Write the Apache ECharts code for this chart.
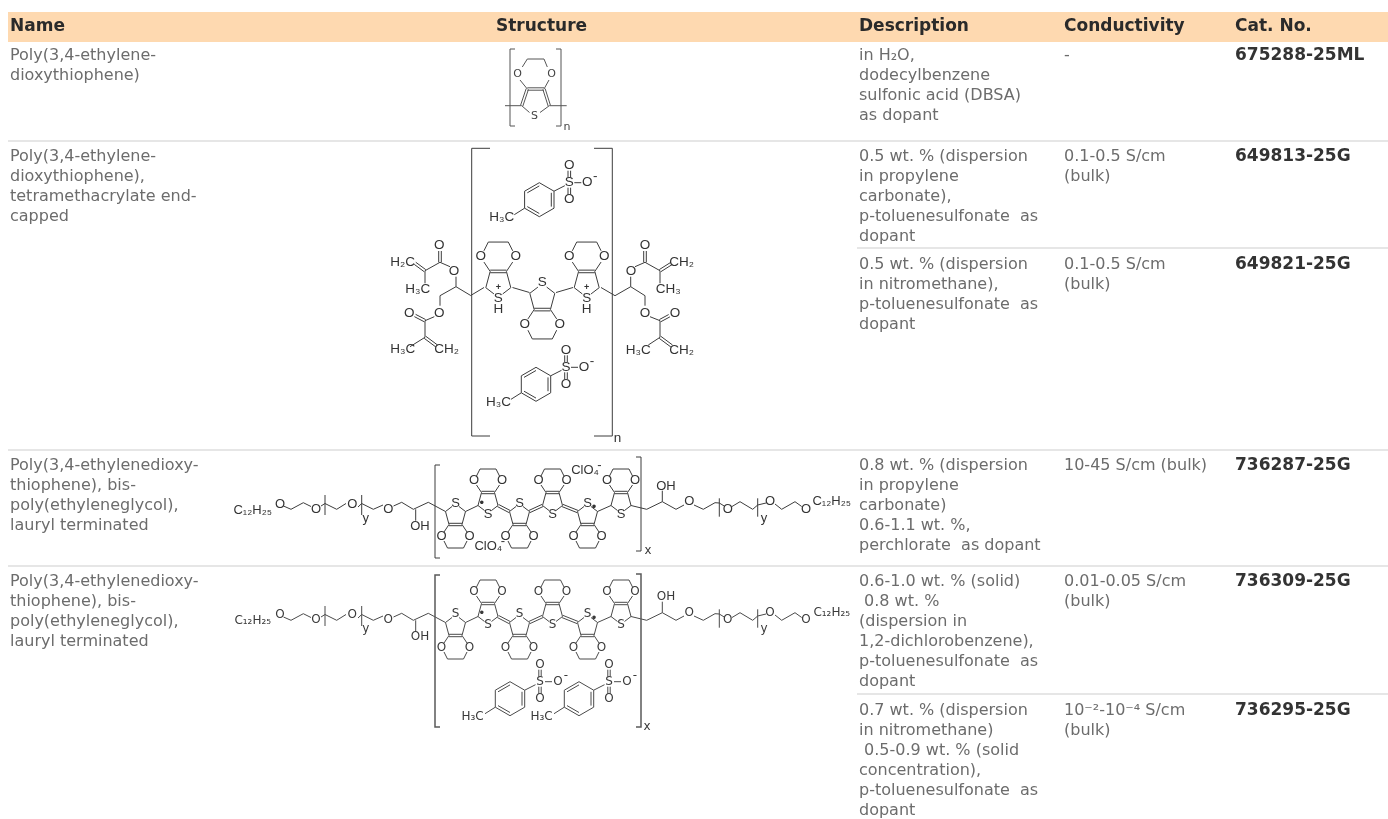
<!DOCTYPE html>
<html>
<head>
<meta charset="utf-8">
<script src="https://cdn.jsdelivr.net/npm/echarts@6/dist/echarts.min.js"></script>
<style>
  html, body { margin: 0; background: #fff; }
  #chart { width: 1388px; height: 819px; }
</style>
</head>
<body>
<div id="chart"></div>
<script>
// table text
const headers = [[10, 'Name'], [496, 'Structure'], [859, 'Description'], [1064, 'Conductivity'], [1235, 'Cat. No.']];
const names = [
  [10, 46, 'Poly(3,4-ethylene-\ndioxythiophene)'],
  [10, 147, 'Poly(3,4-ethylene-\ndioxythiophene),\ntetramethacrylate end-\ncapped'],
  [10, 456, 'Poly(3,4-ethylenedioxy-\nthiophene), bis-\npoly(ethyleneglycol),\nlauryl terminated'],
  [10, 572, 'Poly(3,4-ethylenedioxy-\nthiophene), bis-\npoly(ethyleneglycol),\nlauryl terminated']
];
const descriptions = [
  [859, 46, 'in H₂O,\ndodecylbenzene\nsulfonic acid (DBSA)\nas dopant'],
  [859, 147, '0.5 wt. % (dispersion\nin propylene\ncarbonate),\np-toluenesulfonate  as\ndopant'],
  [859, 255, '0.5 wt. % (dispersion\nin nitromethane),\np-toluenesulfonate  as\ndopant'],
  [859, 456, '0.8 wt. % (dispersion\nin propylene\ncarbonate)\n0.6-1.1 wt. %,\nperchlorate  as dopant'],
  [859, 572, '0.6-1.0 wt. % (solid)\n 0.8 wt. %\n(dispersion in\n1,2-dichlorobenzene),\np-toluenesulfonate  as\ndopant'],
  [859, 701, '0.7 wt. % (dispersion\nin nitromethane)\n 0.5-0.9 wt. % (solid\nconcentration),\np-toluenesulfonate  as\ndopant']
];
const conductivities = [
  [1064, 46, '-'],
  [1064, 147, '0.1-0.5 S/cm\n(bulk)'],
  [1064, 255, '0.1-0.5 S/cm\n(bulk)'],
  [1064, 456, '10-45 S/cm (bulk)'],
  [1064, 572, '0.01-0.05 S/cm\n(bulk)'],
  [1064, 701, '10⁻²-10⁻⁴ S/cm\n(bulk)']
];
const catalog = [
  [1235, 46, '675288-25ML'],
  [1235, 147, '649813-25G'],
  [1235, 255, '649821-25G'],
  [1235, 456, '736287-25G'],
  [1235, 572, '736309-25G'],
  [1235, 701, '736295-25G']
];
const headerBand = [8, 12, 1388, 42];
const rules = [[8, 141, 1388, 141], [857, 248, 1388, 248], [8, 450, 1388, 450], [8, 566, 1388, 566], [857, 694, 1388, 694]];

// fragment: EDOT ring, sulfur at the origin, oxygens above it
const edotBonds = [[-3.5, -3.5, -10, -8.5, -6.5, -21.5, -11.5, -29], [3.5, -3.5, 10, -8.5, 6.5, -21.5, 11.5, -29], [-11.5, -38, -8, -45, 8, -45, 11.5, -38]];
const edotDouble = [[-6.5, -21.5, 6.5, -21.5]];
const edotAtoms = [[0, 0, 'S'], [-14, -33.5, 'O'], [14, -33.5, 'O']];

// fragment: tosylate, sulfur at the origin
const tosBonds = [
  [-30, 0, -15.3, 8.5, -15.3, 25.5, -30, 34, -44.7, 25.5, -44.7, 8.5, -30, 0],
  [-15.3, 8.5, -4.5, 3], [-44.7, 25.5, -55, 32], [5, 0, 12, 0],
  [-42, 10.1, -30, 3.2], [-18, 10.1, -18, 23.9], [-30, 30.8, -42, 23.9]
];
const tosDouble = [[0, -5, 0, -12], [0, 5, 0, 12]];
const tosAtoms = [[0, 0, 'S'], [0, -17, 'O'], [0, 17, 'O'], [18, 0, 'O'], [26, -6, '-'], [-67.5, 35, 'H₃C']];

// structure 1
const s1Bonds = [
  [515, 49, 510, 49, 510, 126, 515, 126], [556, 49, 561, 49, 561, 126, 556, 126],
  [522.3, 67, 527.3, 59, 544, 59, 547.3, 67], [520, 80, 527.3, 89], [549, 80, 544, 89],
  [505, 105.7, 521.7, 105.7, 529.5, 112.5], [566.7, 105.7, 549.3, 105.7, 540, 112.5]
];
const s1Double = [[527.3, 89, 544, 89], [527.3, 89, 521.7, 105.7], [544, 89, 549.3, 105.7]];
const s1Atoms = [[517.5, 74, 'O'], [551.5, 74, 'O'], [534.5, 116, 'S'], [567, 127, 'n']];

// structure 2
const s2Bonds = [
  [490, 148.3, 471.7, 148.3, 471.7, 436, 490, 436], [594, 148.3, 612.3, 148.3, 612.3, 436, 594, 436],
  [484, 287.5, 470.7, 295.5, 456, 286.7, 440, 295.7, 440, 305.7], [456, 286.7, 456, 276.7],
  [450, 266.7, 440, 262.3, 425, 270.7, 425, 283.3], [434.3, 316.7, 425, 320.7, 425, 337.3, 410, 346.7],
  [512.5, 287.5, 529.5, 292.5], [556, 292.5, 573, 287.5],
  [601, 287.5, 615, 295.7, 630.7, 286.7, 645, 295.7, 645, 305.7], [630.7, 286.7, 630.7, 276.7],
  [635, 266.7, 645, 262.3, 660, 270.7, 660, 283.3], [650, 316.7, 660, 320.7, 660, 337.3, 648.3, 345]
];
const s2Double = [
  [440, 262.3, 440, 251], [425, 270.7, 415, 263.3], [425, 320.7, 415, 315.5], [425, 337.3, 436.7, 346],
  [645, 262.3, 645, 251], [660, 270.7, 671.7, 263.3], [660, 320.7, 669.3, 315.7], [660, 337.3, 671.7, 346]
];
const s2Atoms = [
  [498.3, 309.3, 'H'], [586.7, 309.3, 'H'], [617.5, 438, 'n'],
  [439.3, 245, 'O'], [454, 271, 'O'], [402.7, 262.7, 'H₂C'], [417.7, 289, 'H₃C'], [439.3, 313.3, 'O'],
  [409.3, 313.3, 'O'], [402.7, 349.3, 'H₃C'], [446.7, 349.3, 'CH₂'],
  [645, 245, 'O'], [631, 271, 'O'], [681.7, 262.7, 'CH₂'], [668.3, 289.3, 'CH₃'], [645, 313.3, 'O'],
  [675, 313.3, 'O'], [638.3, 350, 'H₃C'], [681.7, 350, 'CH₂']
];
const s2Charges = [[498.3, 287.5, '+'], [586.7, 287.5, '+']];

// chain and thiophene links shared by structures 3 and 4
const chainBonds = [
  [283.5, 506, 291, 509.3, 303.3, 502.7, 311, 506.5], [321, 506, 325, 503.5, 336.7, 509.3, 346, 503.5],
  [358, 507, 361.7, 503.5, 373.3, 509.3, 383, 505], [393.5, 506, 401.7, 502.3, 413.3, 509.3, 428.3, 502.3, 445.5, 511.5],
  [415.7, 509.3, 415.7, 520.7],
  [465.5, 511.5, 478, 505.5], [597.5, 511.5, 611, 505.5],
  [631, 505.5, 646.7, 509.3, 662.3, 501.7, 676, 509.3, 684, 505],
  [662.3, 501.7, 662.3, 490.7], [694, 505, 703.3, 509.3, 715, 502.7, 719.3, 503],
  [719.3, 503, 725, 506.5], [732, 506.5, 740, 501.7, 752.7, 509.3, 757.7, 505, 766, 503],
  [775, 504, 781.7, 509.3, 795, 501.7, 801.7, 506.5],
  [325, 495, 325, 515], [361.7, 495, 361.7, 515], [719.3, 498.3, 719.3, 516.7], [757.7, 498.3, 757.7, 516.7]
];
const chainDouble = [[498, 505.5, 509.5, 511.5], [529.5, 511.5, 542.5, 505.5], [562.5, 505.5, 577.5, 511.5]];
const chainAtoms = [
  [280, 504.3, 'O'], [316, 509.3, 'O'], [352.3, 504.3, 'O'], [365.7, 518, 'y'], [388.3, 509.3, 'O'], [420, 526, 'OH'],
  [666, 486, 'OH'], [689.3, 501.7, 'O'], [727.7, 509.3, 'O'], [764, 518, 'y'], [770, 501.7, 'O'], [806, 509.3, 'O']
];
const ringsUp = [[488, 514], [552.5, 514], [621, 514]];
const ringsDown = [[455.5, 503], [519.5, 503], [587.5, 503]];
const radicalDots = [[481.7, 503.3, '•'], [594, 507.5, '•']];

const s3Brackets = [[440, 465, 435, 465, 435, 558, 440, 558], [636, 457, 641, 457, 641, 551, 636, 551]];
const s3Atoms = [[252.7, 510, 'C₁₂H₂₅'], [831.7, 501.7, 'C₁₂H₂₅'], [648, 550, 'x'], [488.3, 546, 'ClO₄'], [503, 541, '-'], [585, 470, 'ClO₄'], [599.5, 465, '-']];

const s4Brackets = [[440, 575, 435, 575, 435, 727, 440, 727], [636, 574, 641, 574, 641, 727, 636, 727]];
const s4Atoms = [[252.7, 621, 'C₁₂H₂₅'], [831.7, 612.7, 'C₁₂H₂₅'], [647, 727, 'x']];
const s4Shift = 111;

function pairs(f) {
  const out = [];
  for (let i = 0; i < f.length; i += 2) out.push([f[i], f[i + 1]]);
  return out;
}
function moved(list, dx, dy, k, ky) {
  k = k === undefined ? 1 : k;
  ky = ky === undefined ? k : ky;
  return list.map(f => f.map((v, i) => i % 2 ? dy + v * ky : dx + v * k));
}
function movedText(list, dx, dy, k, ky) {
  k = k === undefined ? 1 : k;
  ky = ky === undefined ? k : ky;
  return list.map(a => [dx + a[0] * k, dy + a[1] * ky, a[2]]);
}
function doubled(list, gap) {
  const out = [];
  list.forEach(s => {
    const dx = s[2] - s[0], dy = s[3] - s[1], len = Math.hypot(dx, dy);
    const ox = -dy / len * gap, oy = dx / len * gap;
    out.push([s[0] + ox, s[1] + oy, s[2] + ox, s[3] + oy], [s[0] - ox, s[1] - oy, s[2] - ox, s[3] - oy]);
  });
  return out;
}
function bondSeries(list, color, width) {
  return {
    type: 'lines', coordinateSystem: 'cartesian2d', polyline: true, silent: true,
    lineStyle: { color: color, width: width, opacity: 1 },
    data: list.map(f => ({ coords: pairs(f) }))
  };
}
function textSeries(items, font, color, lineHeight) {
  return {
    type: 'custom', coordinateSystem: 'cartesian2d', silent: true,
    data: items.map(a => [a[0], a[1]]),
    renderItem: function (params, api) {
      const p = api.coord([api.value(0), api.value(1)]);
      const it = items[params.dataIndex];
      return {
        type: 'text', x: p[0], y: p[1],
        style: {
          text: it[2], font: font, fill: color, lineHeight: lineHeight,
          align: lineHeight ? 'left' : 'center', verticalAlign: lineHeight ? 'top' : 'middle'
        }
      };
    }
  };
}

// structure 2 rings and tosylates
const s2Rings = [[498.3, 298.3, 1.25, 1.25], [586.7, 298.3, 1.25, 1.25], [542.3, 282.7, 1.25, -1.25]];
const s2Tos = [[569.3, 182.7], [566, 367.3]];
const s4Tos = [[540, 681.7], [609, 681.7]];

let s2AllBonds = s2Bonds.slice(), s2AllDouble = s2Double.slice(), s2AllAtoms = s2Atoms.slice();
s2Rings.forEach(r => {
  s2AllBonds = s2AllBonds.concat(moved(edotBonds, r[0], r[1], r[2], r[3]));
  s2AllDouble = s2AllDouble.concat(moved(edotDouble, r[0], r[1], r[2], r[3]));
  s2AllAtoms = s2AllAtoms.concat(movedText(edotAtoms, r[0], r[1], r[2], r[3]));
});
s2Tos.forEach(r => {
  s2AllBonds = s2AllBonds.concat(moved(tosBonds, r[0], r[1]));
  s2AllDouble = s2AllDouble.concat(moved(tosDouble, r[0], r[1]));
  s2AllAtoms = s2AllAtoms.concat(movedText(tosAtoms, r[0], r[1]));
});

// structure 3 and 4 backbone
let backBonds = chainBonds.slice(), backDouble = chainDouble.slice(), backAtoms = chainAtoms.concat(radicalDots);
ringsUp.forEach(r => {
  backBonds = backBonds.concat(moved(edotBonds, r[0], r[1]));
  backDouble = backDouble.concat(moved(edotDouble, r[0], r[1]));
  backAtoms = backAtoms.concat(movedText(edotAtoms, r[0], r[1]));
});
ringsDown.forEach(r => {
  backBonds = backBonds.concat(moved(edotBonds, r[0], r[1], 1, -1));
  backDouble = backDouble.concat(moved(edotDouble, r[0], r[1], 1, -1));
  backAtoms = backAtoms.concat(movedText(edotAtoms, r[0], r[1], 1, -1));
});
let s4AllBonds = moved(backBonds, 0, s4Shift), s4AllDouble = moved(backDouble, 0, s4Shift);
let s4AllAtoms = movedText(backAtoms, 0, s4Shift).concat(s4Atoms);
s4Tos.forEach(r => {
  s4AllBonds = s4AllBonds.concat(moved(tosBonds, r[0], r[1]));
  s4AllDouble = s4AllDouble.concat(moved(tosDouble, r[0], r[1]));
  s4AllAtoms = s4AllAtoms.concat(movedText(tosAtoms, r[0], r[1]));
});

const bodyFont = '16px "DejaVu Sans"';
const inkGrey = '#6c6c6c';
const myChart = echarts.init(document.getElementById('chart'));

myChart.setOption({
  animation: false,
  grid: { left: 0, right: 0, top: 0, bottom: 0 },
  xAxis: { type: 'value', min: 0, max: 1388, show: false },
  yAxis: { type: 'value', min: 0, max: 819, inverse: true, show: false },
  series: [
    {
      type: 'custom', coordinateSystem: 'cartesian2d', silent: true,
      data: [headerBand],
      renderItem: function (params, api) {
        const a = api.coord([api.value(0), api.value(1)]);
        const b = api.coord([api.value(2), api.value(3)]);
        return { type: 'rect', shape: { x: a[0], y: a[1], width: b[0] - a[0], height: b[1] - a[1] }, style: { fill: '#fed9b0' } };
      }
    },
    bondSeries(rules, '#e6e6e6', 2),
    textSeries(headers.map(h => [h[0], 17, h[1]]), 'bold 17px "DejaVu Sans"', '#2a2a2a', 20),
    textSeries(names, bodyFont, inkGrey, 20),
    textSeries(descriptions, bodyFont, inkGrey, 20),
    textSeries(conductivities, bodyFont, inkGrey, 20),
    textSeries(catalog, 'bold 17px "DejaVu Sans"', '#333333', 20),

    bondSeries(s1Bonds, '#555555', 1),
    bondSeries(doubled(s1Double, 1.2), '#555555', 1),
    textSeries(s1Atoms, '11px "DejaVu Sans"', '#444444'),

    bondSeries(s2AllBonds, '#3c3c3c', 1),
    bondSeries(doubled(s2AllDouble, 1.3), '#3c3c3c', 1),
    textSeries(s2AllAtoms, '13.5px "Liberation Sans"', '#333333'),
    textSeries(s2Charges, 'bold 9px "Liberation Sans"', '#333333'),

    bondSeries(backBonds.concat(s3Brackets), '#3c3c3c', 1),
    bondSeries(doubled(backDouble, 1.2), '#3c3c3c', 1),
    textSeries(backAtoms.concat(s3Atoms), '13px "Liberation Sans"', '#333333'),

    bondSeries(s4AllBonds, '#4a4a4a', 1),
    bondSeries(s4Brackets, '#5a5a5a', 1.5),
    bondSeries(doubled(s4AllDouble, 1.2), '#4a4a4a', 1),
    textSeries(s4AllAtoms, '12px "DejaVu Sans"', '#3a3a3a')
  ]
});
</script>
</body>
</html>
